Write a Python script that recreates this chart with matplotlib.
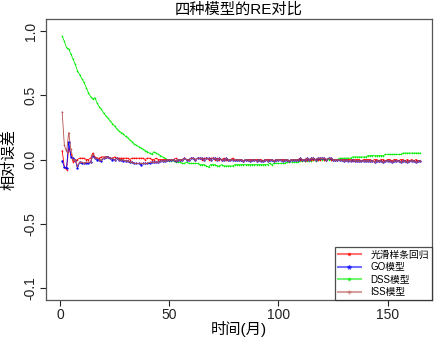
import matplotlib
matplotlib.use('Agg')
import matplotlib.pyplot as plt
from matplotlib.lines import Line2D
import numpy as np

plt.rcParams['font.family'] = ['Liberation Sans', 'Noto Sans CJK SC']
plt.rcParams['axes.unicode_minus'] = False

months = np.arange(1, 166)

spline_re = [
    0.07, -0.06, -0.08, 0.09, 0.04, -0.02, -0.01, 0.00, 0.01, 0.01,
    0.01, 0.00, 0.00, 0.01, 0.05, 0.02, 0.01, 0.01, 0.02, 0.02,
    0.02, 0.02, 0.01, 0.01, 0.02, 0.01, 0.01, 0.01, 0.01, 0.01,
    0.01, 0.00, 0.01, 0.01, 0.01, 0.01, 0.01, 0.01, 0.00, 0.01,
    0.01, 0.00, 0.00, 0.01, 0.00, 0.00, 0.00, 0.00, 0.00, 0.00,
    0.00, 0.00, 0.01, 0.00, 0.00, 0.00, 0.01, 0.00, 0.00, 0.01,
    0.01, 0.00, 0.01, 0.01, 0.00, 0.01, 0.01, 0.00, 0.01, 0.01,
    0.00, 0.01, 0.00, 0.00, 0.01, 0.00, 0.00, 0.00, 0.01, 0.00,
    0.00, 0.00, 0.00, -0.01, 0.00, 0.00, 0.00, 0.00, 0.00, 0.00,
    0.00, 0.00, -0.01, 0.00, 0.00, 0.00, 0.00, -0.01, 0.00, 0.00,
    0.00, 0.00, 0.00, 0.00, -0.01, 0.00, 0.00, 0.00, 0.00, 0.00,
    0.00, -0.01, 0.00, 0.00, 0.00, 0.00, 0.00, 0.00, 0.00, 0.01,
    0.00, 0.00, 0.01, 0.00, 0.00, 0.00, 0.00, 0.00, 0.00, 0.00,
    0.00, 0.00, 0.00, -0.01, 0.00, 0.00, 0.00, -0.01, 0.00, 0.00,
    0.00, 0.00, -0.01, 0.00, 0.00, -0.01, 0.00, 0.00, -0.01, 0.00,
    0.00, -0.01, 0.00, 0.00, -0.01, 0.00, 0.00, -0.01, 0.00, -0.01,
    0.00, -0.01, 0.00, -0.01, -0.01,
]

go_re = [
    -0.01, -0.06, -0.07, 0.14, 0.02, 0.01, 0.00, -0.07, -0.02, -0.03,
    -0.03, -0.03, -0.03, -0.02, 0.03, 0.01, 0.00, 0.00, -0.01, 0.01,
    0.02, 0.02, 0.01, 0.00, 0.00, 0.01, 0.00, 0.00, -0.01, -0.01,
    -0.01, -0.02, -0.02, -0.03, -0.03, -0.03, -0.04, -0.03, -0.03, -0.03,
    -0.03, -0.02, -0.02, -0.02, -0.02, -0.01, -0.01, -0.01, 0.00, 0.00,
    0.00, 0.00, -0.01, 0.00, 0.00, 0.00, 0.01, 0.00, 0.00, 0.01,
    0.01, 0.00, 0.01, 0.01, 0.01, 0.00, 0.01, 0.01, 0.00, 0.01,
    0.01, 0.00, 0.01, 0.00, 0.00, 0.01, 0.00, 0.00, 0.00, 0.00,
    0.00, 0.00, 0.00, -0.01, 0.00, 0.00, -0.01, 0.00, 0.00, -0.01,
    0.00, -0.01, -0.01, 0.00, -0.01, 0.00, 0.00, -0.01, 0.00, 0.00,
    0.00, -0.01, 0.00, 0.00, -0.01, 0.00, 0.00, 0.00, 0.00, 0.01,
    0.00, 0.00, 0.01, 0.00, 0.01, 0.01, 0.00, 0.01, 0.01, 0.01,
    0.01, 0.00, 0.01, 0.01, 0.00, 0.00, 0.00, 0.00, 0.00, -0.01,
    0.00, -0.01, -0.01, 0.00, -0.01, -0.01, -0.01, -0.01, -0.01, -0.01,
    -0.01, -0.01, -0.01, -0.02, -0.01, -0.01, -0.01, -0.02, -0.01, -0.01,
    -0.01, -0.02, -0.01, -0.01, -0.01, -0.02, -0.01, -0.01, -0.02, -0.01,
    -0.01, -0.01, -0.02, -0.01, -0.01,
]

dss_re = [
    0.96, 0.92, 0.87, 0.86, 0.82, 0.78, 0.74, 0.69, 0.66, 0.63,
    0.60, 0.56, 0.52, 0.49, 0.47, 0.48, 0.44, 0.41, 0.39, 0.36,
    0.34, 0.32, 0.30, 0.28, 0.26, 0.24, 0.22, 0.21, 0.20, 0.18,
    0.17, 0.15, 0.14, 0.12, 0.11, 0.10, 0.09, 0.08, 0.07, 0.06,
    0.05, 0.04, 0.06, 0.05, 0.04, 0.03, 0.02, 0.01, 0.00, -0.01,
    -0.01, -0.01, -0.02, -0.02, -0.02, -0.03, -0.03, -0.02, -0.03, -0.03,
    -0.03, -0.03, -0.03, -0.04, -0.04, -0.04, -0.05, -0.06, -0.04, -0.04,
    -0.04, -0.05, -0.05, -0.04, -0.05, -0.05, -0.05, -0.05, -0.05, -0.04,
    -0.04, -0.04, -0.04, -0.04, -0.04, -0.04, -0.04, -0.04, -0.04, -0.04,
    -0.04, -0.04, -0.04, -0.04, -0.04, -0.03, -0.04, -0.03, -0.03, -0.03,
    -0.03, -0.03, -0.03, -0.02, -0.02, -0.02, -0.02, -0.02, -0.02, -0.01,
    -0.01, -0.01, -0.01, -0.01, -0.01, 0.00, -0.01, 0.00, 0.00, 0.00,
    0.00, 0.00, 0.00, 0.00, 0.00, 0.00, 0.00, 0.01, 0.01, 0.01,
    0.01, 0.01, 0.01, 0.02, 0.02, 0.02, 0.02, 0.02, 0.02, 0.02,
    0.03, 0.03, 0.03, 0.03, 0.03, 0.03, 0.03, 0.03, 0.04, 0.04,
    0.04, 0.04, 0.04, 0.04, 0.04, 0.04, 0.05, 0.05, 0.05, 0.05,
    0.05, 0.05, 0.05, 0.05, 0.05,
]

iss_re = [
    0.37, 0.11, 0.06, 0.21, 0.08, 0.00, 0.00, -0.05, -0.02, -0.02,
    -0.03, -0.02, -0.02, -0.02, 0.04, 0.01, 0.01, 0.00, 0.00, 0.01,
    0.02, 0.02, 0.01, 0.01, 0.00, 0.01, 0.00, 0.00, 0.00, -0.01,
    -0.01, -0.02, -0.02, -0.03, -0.03, -0.03, -0.03, -0.03, -0.03, -0.03,
    -0.02, -0.02, -0.02, -0.02, -0.02, -0.01, -0.01, -0.01, 0.00, 0.00,
    0.00, 0.00, -0.01, 0.00, 0.00, 0.00, 0.01, 0.00, 0.00, 0.01,
    0.01, 0.00, 0.01, 0.01, 0.01, 0.00, 0.01, 0.01, 0.00, 0.01,
    0.01, 0.00, 0.01, 0.00, 0.00, 0.01, 0.00, 0.00, 0.00, 0.00,
    0.00, 0.00, 0.00, -0.01, 0.00, 0.00, -0.01, 0.00, 0.00, -0.01,
    0.00, -0.01, -0.01, 0.00, -0.01, 0.00, 0.00, -0.01, 0.00, 0.00,
    0.00, -0.01, 0.00, 0.00, -0.01, 0.00, 0.00, 0.00, 0.00, 0.01,
    0.00, 0.00, 0.01, 0.00, 0.01, 0.01, 0.00, 0.01, 0.01, 0.01,
    0.01, 0.00, 0.01, 0.01, 0.00, 0.00, 0.00, 0.00, 0.00, -0.01,
    0.00, -0.01, -0.01, 0.00, -0.01, -0.01, -0.01, -0.01, -0.01, -0.01,
    -0.01, -0.01, -0.01, -0.02, -0.01, -0.01, -0.01, -0.02, -0.01, -0.01,
    -0.01, -0.02, -0.01, -0.01, -0.01, -0.02, -0.01, -0.01, -0.02, -0.01,
    -0.01, -0.01, -0.02, -0.01, -0.01,
]

labels = ['光滑样条回归', 'GO模型', 'DSS模型', 'ISS模型']
colors = ['#ff0000', '#0000ff', '#00ee00', '#b85050']
markers = ['.', '*', '.', '+']

y_ticks = [-1.0, -0.5, 0.0, 0.5, 1.0]
y_ticklabels = ['-0.1', '-0.5', '0.0', '0.5', '1.0']
x_ticks = [0, 50, 100, 150]

fig = plt.figure(figsize=(4.36, 3.38), dpi=100)
ax = fig.add_axes([46 / 436, 38 / 338, 386 / 436, 281 / 338])

series = [spline_re, go_re, dss_re, iss_re]
order = [2, 0, 1, 3]
for i in order:
    ax.plot(months, series[i], color=colors[i], lw=0.6, marker=markers[i],
            markersize=1.5, markeredgewidth=0.4)

ax.set_xlim(-6.4, 170.3)
ax.set_ylim(-1.093, 1.093)
ax.set_xticks(x_ticks)
ax.set_yticks(y_ticks)
ax.set_yticklabels(y_ticklabels, rotation=90, va='center')
ax.tick_params(direction='out', length=4, width=0.8, colors='#222222',
               labelsize=10, pad=2)
for s in ax.spines.values():
    s.set_color('#555555')
    s.set_linewidth(0.9)

ax.set_title('四种模型的RE对比', fontsize=11, pad=4)
ax.set_xlabel('时间(月)', fontsize=11, labelpad=-1)
ax.set_ylabel('相对误差', fontsize=11, labelpad=5)

handles = [Line2D([0], [0], color=colors[i], lw=1.5, alpha=0.55, marker=markers[i],
                  markersize=3, markerfacecolor=colors[i], markeredgecolor=colors[i])
           for i in range(4)]
leg = ax.legend(handles, labels, loc='lower right', fontsize=7, frameon=True,
                fancybox=False, borderpad=0.3, labelspacing=0.25,
                handlelength=2.4, handletextpad=1.0, borderaxespad=0)
leg.get_frame().set_edgecolor('#222222')
leg.get_frame().set_linewidth(0.9)

fig.savefig('out.png', dpi=100)
